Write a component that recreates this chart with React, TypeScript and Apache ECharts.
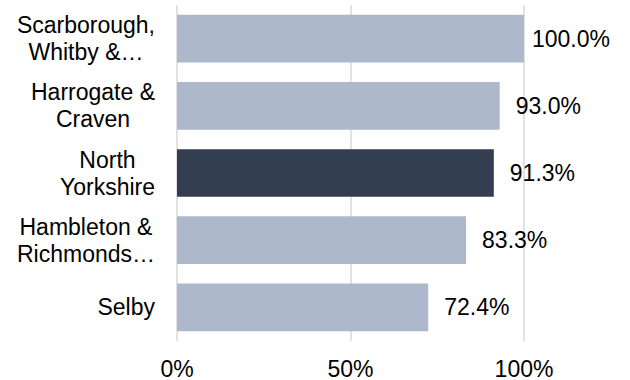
import React, { useEffect, useRef } from "react";
import * as echarts from "echarts";

const categories = [
  "Scarborough,\nWhitby &…",
  "Harrogate &\nCraven",
  "North\nYorkshire",
  "Hambleton &\nRichmonds…",
  "Selby",
];
const values = [100.0, 93.0, 91.3, 83.3, 72.4];
const highlightIndex = 2;
const xMin = 0;
const xMax = 100;
const xInterval = 50;

const FONT = "'Liberation Sans', Arial, sans-serif";
const FS = 23;
const LIGHT = "#ADB9CA";
const DARK = "#333F50";

export default function App() {
  const ref = useRef<HTMLDivElement>(null);
  useEffect(() => {
    if (!ref.current) return;
    const chart = echarts.init(ref.current, null, { renderer: "svg" });
    chart.setOption({
      animation: false,
      grid: { left: 177, right: 106, top: 5, bottom: 38, containLabel: false },
      xAxis: {
        type: "value",
        min: xMin,
        max: xMax,
        interval: xInterval,
        axisLine: { show: false },
        axisTick: { show: false },
        axisLabel: {
          formatter: "{value}%",
          fontSize: FS,
          fontFamily: FONT,
          color: "#000",
          margin: 16,
        },
        splitLine: { show: true, lineStyle: { color: "#D9D9D9", width: 1.5 } },
      },
      yAxis: {
        type: "category",
        data: categories,
        inverse: true,
        axisLine: { show: false },
        axisTick: { show: false },
        axisLabel: {
          margin: 22,
          align: "right",
          formatter: (v: string) =>
            v
              .split("\n")
              .map((l) => `{c|${l}}`)
              .join("\n"),
          rich: {
            c: {
              align: "center",
              fontSize: FS,
              lineHeight: 27,
              fontFamily: FONT,
              color: "#000",
            },
          },
        },
      },
      series: [
        {
          type: "bar",
          barCategoryGap: "29%",
          data: values.map((v, i) => ({
            value: v,
            itemStyle: { color: i === highlightIndex ? DARK : LIGHT },
            label: { distance: v >= 100 ? 8 : 16 },
          })),
          label: {
            show: true,
            position: "right",
            formatter: (p: any) => `${Number(p.value).toFixed(1)}%`,
            fontSize: FS,
            fontFamily: FONT,
            color: "#000",
          },
        },
      ],
    });
    return () => chart.dispose();
  }, []);
  return (
    <div
      ref={ref}
      style={{ position: "absolute", left: 0, top: 0, width: 630, height: 380 }}
    />
  );
}
